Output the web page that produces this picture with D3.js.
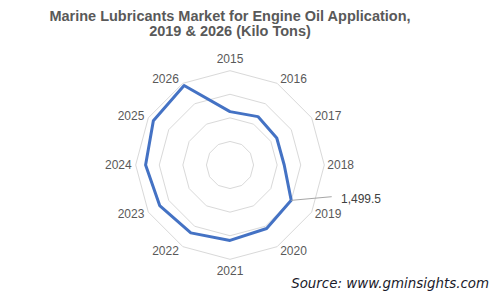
<!DOCTYPE html>
<html>
<head>
<meta charset="utf-8">
<script src="https://cdn.jsdelivr.net/npm/d3@7"></script>
<style>
  body { margin: 0; background: #fff; }
  svg { display: block; font-family: "Liberation Sans", Arial, sans-serif; }
</style>
</head>
<body>
<script>
// radar chart: engine oil volumes by year

var years = ["2015", "2016", "2017", "2018", "2019", "2020", "2021", "2022", "2023", "2024", "2025", "2026"];
var volumes = [1132, 1185, 1145, 1150, 1499.5, 1554, 1600, 1662, 1722, 1790, 1877, 1947];
var ringValues = [500, 1000, 1500, 2000];

var width = 497, height = 295;
var cx = 230, cy = 165, radius = 94.3;

var svg = d3.select("body").append("svg")
    .attr("width", width)
    .attr("height", height);

// radius scale
var r = d3.scaleLinear().domain([0, 2000]).range([0, radius]);
var angle = d3.scaleLinear().domain([0, years.length]).range([0, 2 * Math.PI]);

function px(i, v) { return cx + r(v) * Math.sin(angle(i)); }
function py(i, v) { return cy - r(v) * Math.cos(angle(i)); }

var g = svg.append("g");

// grid rings
ringValues.forEach(function(rv) {
  var pts = years.map(function(y, i) { return [px(i, rv), py(i, rv)]; });
  g.append("path")
      .attr("d", d3.line()(pts) + "Z")
      .attr("fill", "none")
      .attr("stroke", "#d9d9d9")
      .attr("stroke-width", 1);
});

// category labels
years.forEach(function(y, i) {
  var a = angle(i);
  var s = Math.sin(a), c = Math.cos(a);
  var x = px(i, 2000), yy = py(i, 2000);
  var anchor = "middle", base;
  if (Math.abs(s) < 0.01) {
    base = c > 0 ? yy - 8 : yy + 16;
  } else {
    anchor = s > 0 ? "start" : "end";
    x += s > 0 ? 3 : -4;
    base = yy + 4 - 4.6 * c;
  }
  g.append("text")
      .attr("x", x)
      .attr("y", base)
      .attr("text-anchor", anchor)
      .style("font-size", "12px")
      .style("fill", "#595959")
      .text(y);
});

// series line
var linePts = volumes.map(function(v, i) { return [px(i, v), py(i, v)]; });
g.append("path")
    .attr("d", d3.line()(linePts) + "Z")
    .attr("fill", "none")
    .attr("stroke", "#4472c4")
    .attr("stroke-width", 3)
    .attr("stroke-linejoin", "round");

// data label for 2019 with leader line
var li = years.indexOf("2019");
g.append("line")
    .attr("x1", px(li, volumes[li]))
    .attr("y1", py(li, volumes[li]))
    .attr("x2", 331.7)
    .attr("y2", 196.7)
    .attr("stroke", "#a6a6a6")
    .attr("stroke-width", 1);
g.append("text")
    .attr("x", 341)
    .attr("y", 203)
    .style("font-size", "12px")
    .style("fill", "#404040")
    .text(d3.format(",.1f")(volumes[li]));

// title
var title = svg.append("text")
    .attr("text-anchor", "middle")
    .style("font-size", "14.5px")
    .style("font-weight", "bold")
    .style("fill", "#595959");
title.append("tspan").attr("x", 230).attr("y", 21)
    .text("Marine Lubricants Market for Engine Oil Application,");
title.append("tspan").attr("x", 230).attr("y", 36)
    .text("2019 & 2026 (Kilo Tons)");

// source
svg.append("text")
    .attr("x", 489)
    .attr("y", 288)
    .attr("text-anchor", "end")
    .style("font-family", "'DejaVu Sans', Verdana, sans-serif")
    .style("font-style", "italic")
    .style("font-size", "13.4px")
    .style("fill", "#1a1a2a")
    .text("Source: www.gminsights.com");
</script>
</body>
</html>
